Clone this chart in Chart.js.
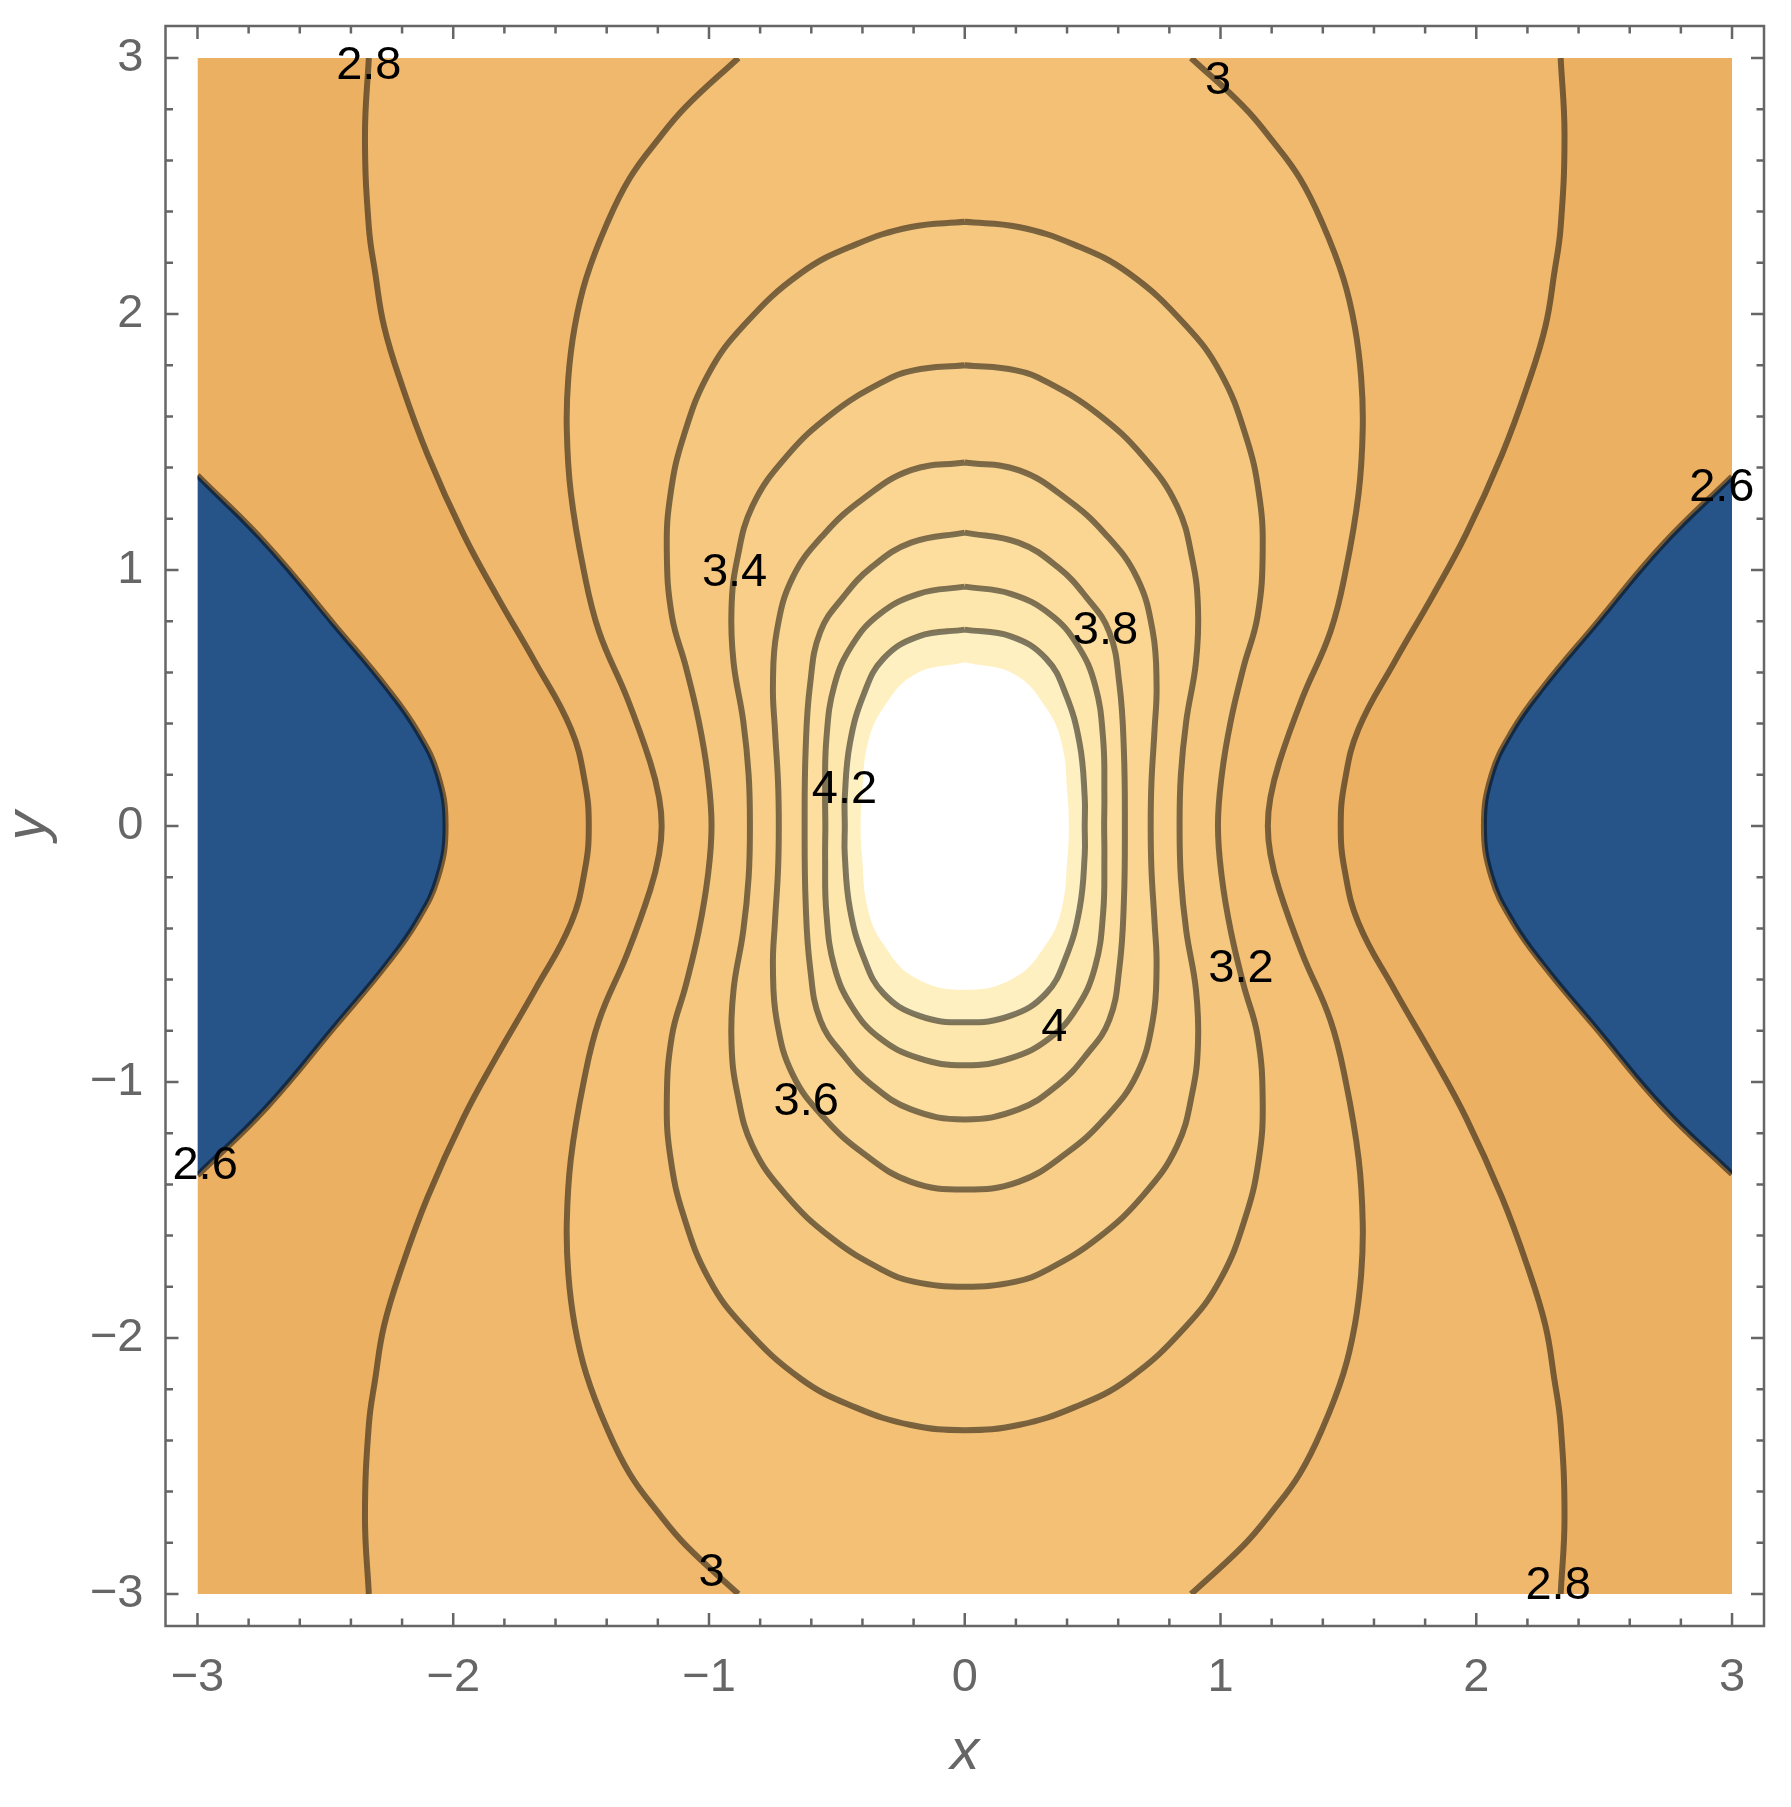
<!DOCTYPE html>
<html>
<head>
<meta charset="utf-8">
<script src="https://cdn.jsdelivr.net/npm/chart.js@4.4.1/dist/chart.umd.min.js"></script>
<style>
  html, body { margin: 0; padding: 0; background: #ffffff; }
  #wrap { width: 1791px; height: 1807px; }
</style>
</head>
<body>
<div id="wrap"><canvas id="contourChart" width="1791" height="1807"></canvas></div>
<script>
// axis ticks
const xTicks = [-3, -2, -1, 0, 1, 2, 3];
const yTicks = [-3, -2, -1, 0, 1, 2, 3];
const minorTicks = [-2.8, -2.6, -2.4, -2.2, -1.8, -1.6, -1.4, -1.2, -0.8, -0.6, -0.4, -0.2,
                    0.2, 0.4, 0.6, 0.8, 1.2, 1.4, 1.6, 1.8, 2.2, 2.4, 2.6, 2.8];
const plotDomain = [[-3, 3], [3, 3], [3, -3], [-3, -3]];

// band colours, from low to high
const bandColors = {
    below: '#265489',
    b26: '#ECB063',
    b28: '#EFB86D',
    b30: '#F3C076',
    b32: '#F5C77F',
    b34: '#F8CE88',
    b36: '#FAD692',
    b38: '#FDDE9E',
    b40: '#FEE7AD',
    b42: '#FFF0C2',
    above: '#FFFFFF'
};

// contour lines, [x, y]
const line26Left = [[-3, 1.37], [-2.73, 1.1], [-2.46, 0.78], [-2.26, 0.54], [-2.14, 0.37], [-2.06, 0.2], [-2.03, 0],
    [-2.06, -0.2], [-2.14, -0.37], [-2.26, -0.54], [-2.46, -0.78], [-2.73, -1.1], [-3, -1.365]];
const line26Right = [[3, 1.365], [2.73, 1.1], [2.46, 0.78], [2.26, 0.54], [2.14, 0.37], [2.06, 0.2], [2.03, 0],
    [2.06, -0.2], [2.14, -0.37], [2.26, -0.54], [2.46, -0.78], [2.73, -1.1], [3, -1.36]];

const line28Left = [[-2.33, 3], [-2.345, 2.7], [-2.33, 2.34], [-2.305, 2.16], [-2.27, 1.95], [-2.2, 1.72], [-2.1, 1.45],
    [-1.96, 1.14], [-1.83, 0.9], [-1.68, 0.64], [-1.54, 0.38], [-1.485, 0.17], [-1.47, 0],
    [-1.485, -0.17], [-1.54, -0.38], [-1.68, -0.64], [-1.83, -0.9], [-1.96, -1.14], [-2.1, -1.45],
    [-2.2, -1.72], [-2.27, -1.95], [-2.305, -2.16], [-2.33, -2.34], [-2.345, -2.7], [-2.33, -3]];
const line28Right = [[2.33, 3], [2.345, 2.7], [2.33, 2.34], [2.305, 2.16], [2.27, 1.95], [2.2, 1.72], [2.1, 1.45],
    [1.96, 1.14], [1.83, 0.9], [1.68, 0.64], [1.54, 0.38], [1.485, 0.17], [1.47, 0],
    [1.485, -0.17], [1.54, -0.38], [1.68, -0.64], [1.83, -0.9], [1.96, -1.14], [2.1, -1.45],
    [2.2, -1.72], [2.27, -1.95], [2.305, -2.16], [2.33, -2.34], [2.345, -2.7], [2.33, -3]];

const line30Left = [[-0.885, 3], [-1.09, 2.81], [-1.2, 2.68], [-1.31, 2.53], [-1.4, 2.35], [-1.48, 2.14], [-1.525, 1.95],
    [-1.55, 1.75], [-1.556, 1.55], [-1.54, 1.3], [-1.49, 1.0], [-1.43, 0.76], [-1.32, 0.5], [-1.23, 0.25],
    [-1.195, 0.11], [-1.185, 0], [-1.195, -0.11], [-1.23, -0.25], [-1.32, -0.5], [-1.43, -0.76], [-1.49, -1.0],
    [-1.54, -1.3], [-1.556, -1.55], [-1.55, -1.75], [-1.525, -1.95], [-1.48, -2.14], [-1.4, -2.35],
    [-1.31, -2.53], [-1.2, -2.68], [-1.09, -2.81], [-0.885, -3]];
const line30Right = [[0.885, 3], [1.09, 2.81], [1.2, 2.68], [1.31, 2.53], [1.4, 2.35], [1.48, 2.14], [1.525, 1.95],
    [1.55, 1.75], [1.556, 1.55], [1.54, 1.3], [1.49, 1.0], [1.43, 0.76], [1.32, 0.5], [1.23, 0.25],
    [1.195, 0.11], [1.185, 0], [1.195, -0.11], [1.23, -0.25], [1.32, -0.5], [1.43, -0.76], [1.49, -1.0],
    [1.54, -1.3], [1.556, -1.55], [1.55, -1.75], [1.525, -1.95], [1.48, -2.14], [1.4, -2.35],
    [1.31, -2.53], [1.2, -2.68], [1.09, -2.81], [0.885, -3]];

const loop32 = [[0, 2.36], [0.21, 2.34], [0.43, 2.27], [0.64, 2.16], [0.86, 1.96], [1.0, 1.77], [1.1, 1.52], [1.15, 1.3],
    [1.165, 1.08], [1.145, 0.82], [1.09, 0.62], [1.04, 0.41], [1.005, 0.2], [0.99, 0],
    [1.005, -0.2], [1.04, -0.41], [1.09, -0.62], [1.145, -0.82], [1.165, -1.08], [1.15, -1.3], [1.1, -1.52],
    [1.0, -1.77], [0.86, -1.96], [0.64, -2.16], [0.43, -2.27], [0.21, -2.34], [0, -2.36],
    [-0.21, -2.34], [-0.43, -2.27], [-0.64, -2.16], [-0.86, -1.96], [-1.0, -1.77], [-1.1, -1.52], [-1.15, -1.3],
    [-1.165, -1.08], [-1.145, -0.82], [-1.09, -0.62], [-1.04, -0.41], [-1.005, -0.2], [-0.99, 0],
    [-1.005, 0.2], [-1.04, 0.41], [-1.09, 0.62], [-1.145, 0.82], [-1.165, 1.08], [-1.15, 1.3], [-1.1, 1.52],
    [-1.0, 1.77], [-0.86, 1.96], [-0.64, 2.16], [-0.43, 2.27], [-0.21, 2.34], [0, 2.36]];

const loop34 = [[0, 1.8], [0.2, 1.78], [0.32, 1.735], [0.52, 1.61], [0.7, 1.44], [0.83, 1.25], [0.89, 1.04], [0.912, 0.85],
    [0.904, 0.64], [0.866, 0.41], [0.845, 0.2], [0.84, 0],
    [0.845, -0.2], [0.866, -0.41], [0.904, -0.64], [0.912, -0.85], [0.89, -1.04], [0.83, -1.25], [0.7, -1.44],
    [0.52, -1.61], [0.32, -1.735], [0.2, -1.78], [0, -1.8],
    [-0.2, -1.78], [-0.32, -1.735], [-0.52, -1.61], [-0.7, -1.44], [-0.83, -1.25], [-0.89, -1.04], [-0.912, -0.85],
    [-0.904, -0.64], [-0.866, -0.41], [-0.845, -0.2], [-0.84, 0],
    [-0.845, 0.2], [-0.866, 0.41], [-0.904, 0.64], [-0.912, 0.85], [-0.89, 1.04], [-0.83, 1.25], [-0.7, 1.44],
    [-0.52, 1.61], [-0.32, 1.735], [-0.2, 1.78], [0, 1.8]];

const loop36 = [[0, 1.42], [0.21, 1.39], [0.395, 1.28], [0.55, 1.14], [0.673, 0.97], [0.735, 0.76], [0.75, 0.55],
    [0.742, 0.375], [0.73, 0.17], [0.727, 0],
    [0.73, -0.17], [0.742, -0.375], [0.75, -0.55], [0.735, -0.76], [0.673, -0.97], [0.55, -1.14], [0.395, -1.28],
    [0.21, -1.39], [0, -1.42],
    [-0.21, -1.39], [-0.395, -1.28], [-0.55, -1.14], [-0.673, -0.97], [-0.735, -0.76], [-0.75, -0.55],
    [-0.742, -0.375], [-0.73, -0.17], [-0.727, 0],
    [-0.73, 0.17], [-0.742, 0.375], [-0.75, 0.55], [-0.735, 0.76], [-0.673, 0.97], [-0.55, 1.14], [-0.395, 1.28],
    [-0.21, 1.39], [0, 1.42]];

const loop38 = [[0, 1.146], [0.21, 1.107], [0.364, 1.011], [0.472, 0.898], [0.565, 0.758], [0.605, 0.55], [0.622, 0.3], [0.626, 0],
    [0.622, -0.3], [0.605, -0.55], [0.565, -0.758], [0.472, -0.898], [0.364, -1.011], [0.21, -1.107], [0, -1.146],
    [-0.21, -1.107], [-0.364, -1.011], [-0.472, -0.898], [-0.565, -0.758], [-0.605, -0.55], [-0.622, -0.3], [-0.626, 0],
    [-0.622, 0.3], [-0.605, 0.55], [-0.565, 0.758], [-0.472, 0.898], [-0.364, 1.011], [-0.21, 1.107], [0, 1.146]];

const loop40 = [[0, 0.935], [0.18, 0.907], [0.333, 0.828], [0.441, 0.706], [0.51, 0.549], [0.541, 0.34], [0.546, 0.12], [0.545, 0],
    [0.546, -0.12], [0.541, -0.34], [0.51, -0.549], [0.441, -0.706], [0.333, -0.828], [0.18, -0.907], [0, -0.935],
    [-0.18, -0.907], [-0.333, -0.828], [-0.441, -0.706], [-0.51, -0.549], [-0.541, -0.34], [-0.546, -0.12], [-0.545, 0],
    [-0.546, 0.12], [-0.541, 0.34], [-0.51, 0.549], [-0.441, 0.706], [-0.333, 0.828], [-0.18, 0.907], [0, 0.935]];

const loop42 = [[0, 0.767], [0.18, 0.741], [0.318, 0.654], [0.395, 0.514], [0.449, 0.323], [0.469, 0.113], [0.469, 0],
    [0.469, -0.113], [0.449, -0.323], [0.395, -0.514], [0.318, -0.654], [0.18, -0.741], [0, -0.767],
    [-0.18, -0.741], [-0.318, -0.654], [-0.395, -0.514], [-0.449, -0.323], [-0.469, -0.113], [-0.469, 0],
    [-0.469, 0.113], [-0.449, 0.323], [-0.395, 0.514], [-0.318, 0.654], [-0.18, 0.741], [0, 0.767]];

// edge of the white (out of range) patch, no line drawn there
const loop44 = [[0, 0.64], [0.194, 0.593], [0.318, 0.462], [0.379, 0.323], [0.402, 0.113], [0.407, 0],
    [0.402, -0.113], [0.379, -0.323], [0.318, -0.462], [0.194, -0.593], [0, -0.64],
    [-0.194, -0.593], [-0.318, -0.462], [-0.379, -0.323], [-0.402, -0.113], [-0.407, 0],
    [-0.402, 0.113], [-0.379, 0.323], [-0.318, 0.462], [-0.194, 0.593], [0, 0.64]];

// contour labels: text, x, y
const labelText = ['2.8', '3', '2.6', '3.4', '3.8', '4.2', '3.2', '4', '3.6', '2.6', '3', '2.8'];
const labelX = [-2.33, 0.99, 2.96, -0.90, 0.55, -0.47, 1.08, 0.35, -0.62, -2.97, -0.99, 2.32];
const labelY = [2.97, 2.91, 1.32, 0.99, 0.76, 0.14, -0.56, -0.79, -1.08, -1.33, -2.92, -2.97];

const FONT = '"Liberation Sans", Arial, sans-serif';
const LINE_COLOR = 'rgba(0, 0, 0, 0.5)';
const TENSION = 0.42;

Chart.defaults.font.family = FONT;

function toXY(points) {
    return points.map(p => ({ x: p[0], y: p[1] }));
}

function areaSet(points, color, tension) {
    return {
        data: toXY(points),
        borderWidth: 0,
        borderColor: 'rgba(0,0,0,0)',
        backgroundColor: color,
        fill: 'shape',
        pointRadius: 0,
        pointHoverRadius: 0,
        tension: tension
    };
}

function lineSet(points) {
    return {
        data: toXY(points),
        borderWidth: 6,
        borderColor: LINE_COLOR,
        borderCapStyle: 'butt',
        borderJoinStyle: 'round',
        fill: false,
        pointRadius: 0,
        pointHoverRadius: 0,
        tension: TENSION
    };
}

// region between two open curves (both running top -> bottom)
function band(left, right) {
    const lEnd = left[left.length - 1];
    const rEnd = right[right.length - 1];
    return [...left, lEnd, rEnd, ...right.slice().reverse()];
}

// painted first -> last
const paintList = [
    areaSet(plotDomain, bandColors.b26, 0),
    areaSet(line26Left, bandColors.below, TENSION),
    areaSet(line26Right, bandColors.below, TENSION),
    areaSet(band(line28Left, line28Right), bandColors.b28, TENSION),
    areaSet(band(line30Left, line30Right), bandColors.b30, TENSION),
    areaSet(loop32, bandColors.b32, TENSION),
    areaSet(loop34, bandColors.b34, TENSION),
    areaSet(loop36, bandColors.b36, TENSION),
    areaSet(loop38, bandColors.b38, TENSION),
    areaSet(loop40, bandColors.b40, TENSION),
    areaSet(loop42, bandColors.b42, TENSION),
    areaSet(loop44, bandColors.above, TENSION),
    lineSet(line26Left),
    lineSet(line26Right),
    lineSet(line28Left),
    lineSet(line28Right),
    lineSet(line30Left),
    lineSet(line30Right),
    lineSet(loop32),
    lineSet(loop34),
    lineSet(loop36),
    lineSet(loop38),
    lineSet(loop40),
    lineSet(loop42)
];
// chart.js draws higher order first
paintList.forEach((ds, i) => { ds.order = paintList.length - i; });

function fmt(v) {
    return v < 0 ? '\u2212' + Math.abs(v) : String(v);
}

// keep all contour drawing inside the -3..3 square
const plotClip = {
    id: 'plotClip',
    beforeDatasetsDraw(chart) {
        const { ctx, scales: { x, y } } = chart;
        const l = x.getPixelForValue(plotDomain[0][0]);
        const r = x.getPixelForValue(plotDomain[1][0]);
        const t = y.getPixelForValue(plotDomain[0][1]);
        const b = y.getPixelForValue(plotDomain[2][1]);
        ctx.save();
        ctx.beginPath();
        ctx.rect(l, t, r - l, b - t);
        ctx.clip();
    },
    afterDatasetsDraw(chart) {
        chart.ctx.restore();
    }
};

// frame with inward ticks on all four sides
const frameTicks = {
    id: 'frameTicks',
    afterDraw(chart) {
        const { ctx, chartArea: { left, right, top, bottom }, scales: { x, y } } = chart;
        ctx.save();
        ctx.strokeStyle = '#666666';
        ctx.lineWidth = 2.5;
        ctx.strokeRect(left, top, right - left, bottom - top);
        const drawTicks = (values, len) => {
            ctx.beginPath();
            values.forEach(v => {
                const px = x.getPixelForValue(v);
                ctx.moveTo(px, bottom); ctx.lineTo(px, bottom - len);
                ctx.moveTo(px, top); ctx.lineTo(px, top + len);
                const py = y.getPixelForValue(v);
                ctx.moveTo(left, py); ctx.lineTo(left + len, py);
                ctx.moveTo(right, py); ctx.lineTo(right - len, py);
            });
            ctx.stroke();
        };
        drawTicks(xTicks, 13);
        drawTicks(minorTicks, 7.5);
        ctx.restore();
    }
};

const contourLabels = {
    id: 'contourLabels',
    afterDraw(chart) {
        const { ctx, scales: { x, y } } = chart;
        ctx.save();
        ctx.font = '47px ' + FONT;
        ctx.fillStyle = '#000000';
        ctx.textAlign = 'center';
        ctx.textBaseline = 'middle';
        labelText.forEach((txt, i) => {
            ctx.fillText(txt, x.getPixelForValue(labelX[i]), y.getPixelForValue(labelY[i]));
        });
        ctx.restore();
    }
};

const tickFont = { size: 47, family: FONT };
const titleFont = { size: 58, family: FONT, style: 'italic', lineHeight: 1 };

new Chart(document.getElementById('contourChart').getContext('2d'), {
    type: 'line',
    data: { datasets: paintList },
    options: {
        responsive: false,
        animation: false,
        events: [],
        layout: { padding: { left: 0, right: 27, top: 26, bottom: 0 } },
        plugins: {
            legend: { display: false },
            tooltip: { enabled: false },
            filler: { propagate: false }
        },
        scales: {
            x: {
                type: 'linear',
                position: 'bottom',
                min: -3.125,
                max: 3.125,
                grid: { display: false },
                border: { display: false },
                ticks: {
                    font: tickFont,
                    color: '#666666',
                    padding: 16,
                    autoSkip: false,
                    maxRotation: 0,
                    minRotation: 0,
                    callback: v => fmt(v)
                },
                title: {
                    display: true,
                    text: 'x',
                    color: '#666666',
                    font: titleFont,
                    padding: { top: 0, bottom: 25 }
                },
                afterBuildTicks: scale => { scale.ticks = xTicks.map(v => ({ value: v })); },
                afterFit: scale => {
                    scale.height = 181;
                    scale.paddingLeft = 0;
                    scale.paddingRight = 0;
                }
            },
            y: {
                type: 'linear',
                position: 'left',
                min: -3.125,
                max: 3.125,
                grid: { display: false },
                border: { display: false },
                ticks: {
                    font: tickFont,
                    color: '#666666',
                    padding: 14,
                    autoSkip: false,
                    callback: v => fmt(v)
                },
                title: {
                    display: true,
                    text: 'y',
                    color: '#666666',
                    font: titleFont,
                    padding: { top: 0, bottom: 0 }
                },
                afterBuildTicks: scale => { scale.ticks = yTicks.map(v => ({ value: v })); },
                afterFit: scale => {
                    scale.width = 165.5;
                    scale.paddingTop = 0;
                    scale.paddingBottom = 0;
                }
            }
        }
    },
    plugins: [plotClip, frameTicks, contourLabels]
});
</script>
</body>
</html>
